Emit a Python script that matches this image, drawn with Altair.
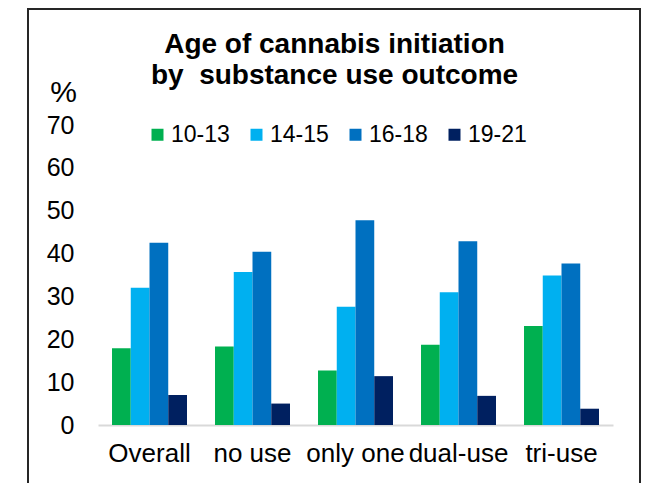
import altair as alt
import pandas as pd

outcomes = ["Overall", "no use", "only one", "dual-use", "tri-use"]
age_groups = ["10-13", "14-15", "16-18", "19-21"]
pct_10_13 = [17.9, 18.3, 12.7, 18.7, 23.1]
pct_14_15 = [32.0, 35.7, 27.6, 31.0, 34.9]
pct_16_18 = [42.5, 40.4, 47.8, 42.9, 37.7]
pct_19_21 = [7.0, 5.0, 11.4, 6.8, 3.8]
age_colors = ["#00B050", "#00B0F0", "#0070C0", "#002060"]
y_ticks = [0, 10, 20, 30, 40, 50, 60, 70]

rows = []
for age, values in zip(age_groups, [pct_10_13, pct_14_15, pct_16_18, pct_19_21]):
    for outcome, value in zip(outcomes, values):
        rows.append({"outcome": outcome, "age": age, "pct": value})
df = pd.DataFrame(rows)

FONT = "Liberation Sans"

bars = alt.Chart(df).mark_bar().encode(
    x=alt.X(
        "outcome:N",
        sort=outcomes,
        scale=alt.Scale(paddingInner=0.272, paddingOuter=0.136),
        axis=alt.Axis(
            title=None, labelAngle=0, labelFontSize=26, labelFont=FONT,
            labelColor="black", labelPadding=15, labelOverlap=False,
            ticks=False, domainColor="#D9D9D9", domainWidth=2,
        ),
    ),
    xOffset=alt.XOffset("age:N", sort=age_groups),
    y=alt.Y(
        "pct:Q",
        scale=alt.Scale(domain=[0, 70]),
        axis=alt.Axis(
            values=y_ticks, title="%", titleAngle=0, titleFontSize=30,
            titleFont=FONT, titleFontWeight="normal", titleColor="black",
            titleAlign="center", titleBaseline="alphabetic",
            titleX=-35, titleY=-24,
            grid=False, ticks=False, domain=False,
            labelFontSize=25, labelFont=FONT, labelColor="black", labelPadding=24,
        ),
    ),
    color=alt.Color(
        "age:N",
        sort=age_groups,
        scale=alt.Scale(domain=age_groups, range=age_colors),
        legend=alt.Legend(
            title=None, orient="none", direction="horizontal",
            legendX=48, legendY=-2, symbolType="square", symbolSize=144,
            symbolStrokeWidth=0, labelFontSize=23, labelFont=FONT,
            labelColor="black", columnPadding=15, labelOffset=2, padding=0,
        ),
    ),
)

# outer frame around the whole figure
frame = alt.Chart(pd.DataFrame({"k": [0]})).mark_rect(
    filled=False, stroke="#262626", strokeWidth=2
).encode(
    x=alt.value(-70), x2=alt.value(542), y=alt.value(-116), y2=alt.value(370)
)

chart = alt.layer(bars, frame).properties(
    width=515,
    height=300,
    autosize="none",
    background="white",
    padding={"left": 98, "top": 125, "right": 34, "bottom": 58},
    title=alt.Title(
        ["Age of cannabis initiation", "by\u00a0 substance use outcome"],
        fontSize=28, font=FONT, fontWeight="bold", color="black",
        anchor="middle", frame="group", dx=-21, dy=102, offset=20, lineHeight=31,
    ),
).configure_view(strokeWidth=0)

chart.save("out.html", embed_options={"renderer": "svg", "actions": False})
